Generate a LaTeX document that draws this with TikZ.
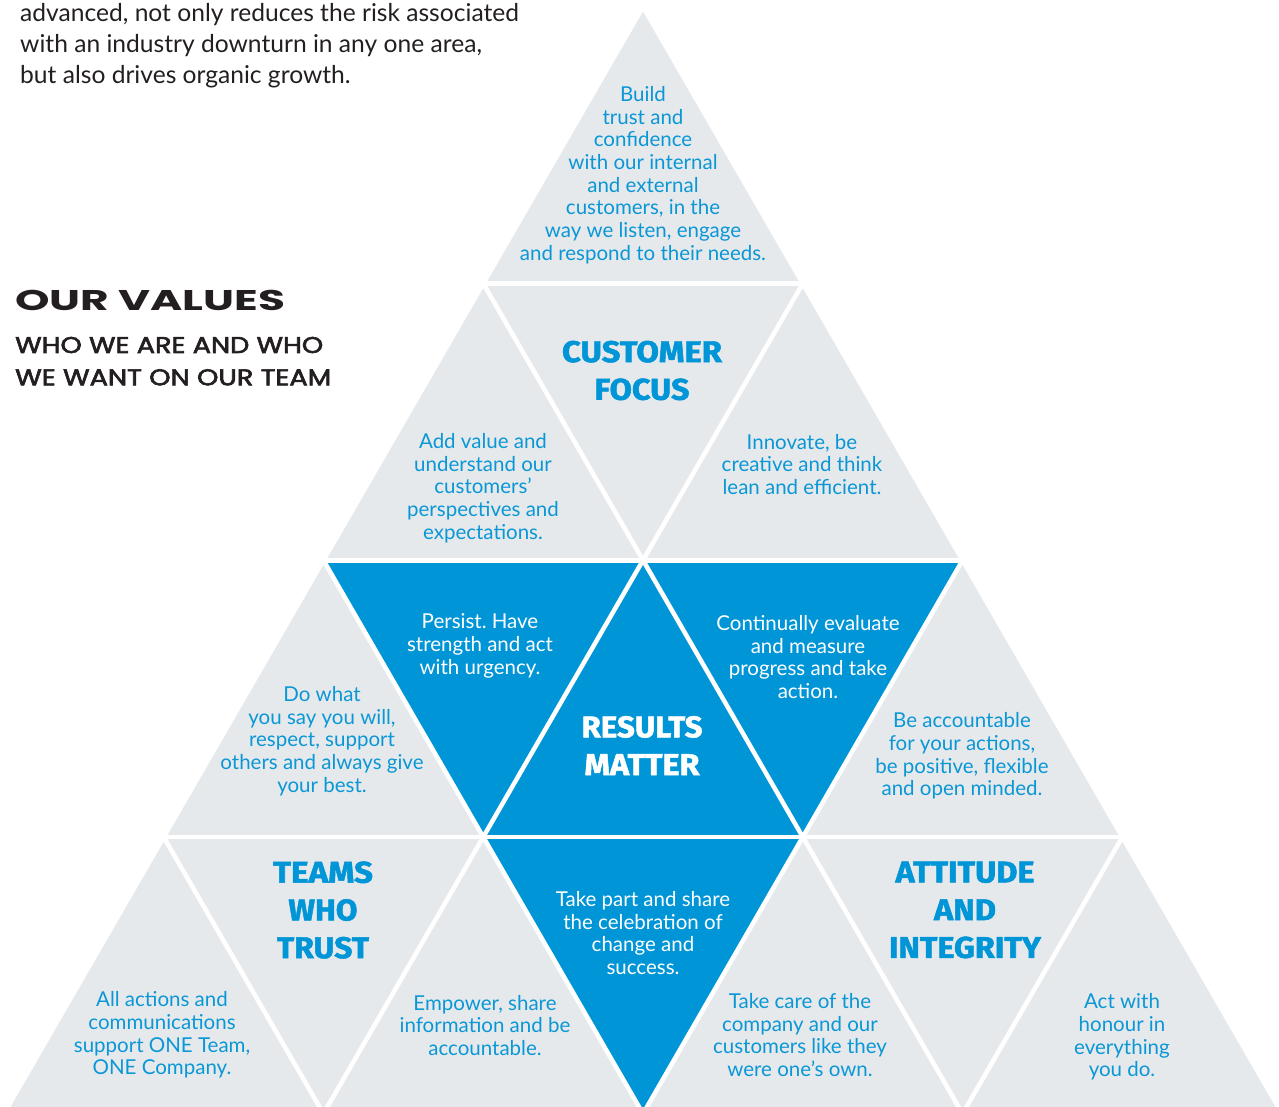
\documentclass[tikz,border=0pt]{standalone}
\usepackage{fontspec}
\usepackage{graphicx}
\setmainfont{Lato}
\newfontfamily\bodyf{Lato}
\newfontfamily\headf[FakeBold=1.6]{Fira Sans}
\newfontfamily\titlef{Poppins}
\newfontfamily\subf[FakeBold=2.6]{Poppins}
\definecolor{tri}{HTML}{E6E9EC}
\definecolor{vblue}{HTML}{0095D6}
\definecolor{tblue}{HTML}{0A97D6}
\definecolor{ink}{HTML}{231F20}
\newcommand{\hw}[2]{\resizebox{#1pt}{\height}{#2}}
\frenchspacing
\begin{document}
\begin{tikzpicture}[x=1pt,y=-1pt,
  body/.style={align=center, text=tblue, inner sep=0pt, yshift=-2pt, font=\bodyf\frenchspacing\fontsize{20.5}{22.7}\selectfont},
  bodyw/.style={body, text=white},
  head/.style={align=center, text=vblue, inner sep=0pt, font=\headf\bfseries\fontsize{30}{37.7}\selectfont},
  headw/.style={head, text=white},
  gap/.style={draw=white, line width=4.5pt, line join=miter}
]
\useasboundingbox (0,0) rectangle (1279,1106);
\clip (0,0) rectangle (1279,1106);
\foreach \j in {0,...,4}{\foreach \i in {0,...,\j}{\coordinate (p\i\j) at ({643+(\i-\j/2)*319.56},{6.75+\j*276.75});}}
% triangles
\fill[tri] (p00) -- (p04) -- (p44) -- cycle;
\fill[vblue] (p02) -- (p22) -- (p23) -- (p24) -- (p13) -- cycle;
\foreach \j in {1,2,3} {\draw[gap] (p0\j) -- (p\j\j);}
\foreach \i in {1,2,3} {\draw[gap] (p\i\i) -- (p\i4);}
\foreach \k in {1,2,3} {\pgfmathtruncatemacro\e{4-\k}\draw[gap] (p0\k) -- (p\e4);}
\draw[gap] (p00) -- (p04) -- (p44) -- cycle;
% left texts
\node[anchor=north west, inner sep=0pt, align=left, text=ink, font=\bodyf\fontsize{24.6}{31}\selectfont] (intro) at (20,3) {advanced, not only reduces the risk associated\\with an industry downturn in any one area,\\but also drives organic growth.};
\node[anchor=north west, inner sep=0pt, text=ink, font=\titlef\bfseries\fontsize{28.5}{30}\selectfont] (title) at (15,290) {\hw{270}{OUR VALUES}};
\node[anchor=north west, inner sep=0pt, text=ink, font=\subf\fontsize{22.8}{24}\selectfont] (sub1) at (15,336.7) {\hw{308}{WHO WE ARE AND WHO}};
\node[anchor=north west, inner sep=0pt, text=ink, font=\subf\fontsize{22.8}{24}\selectfont] (sub2) at (15,369) {\hw{316}{WE WANT ON OUR TEAM}};
% triangle labels
\node[body] (t1) at (643,173) {Build\\trust and\\confidence\\with our internal\\and external\\customers, in the\\way we listen, engage\\and respond to their needs.};
\node[body] (t2) at (483,486) {Add value and\\understand our\\customers’\\perspectives and\\expectations.};
\node[head] (h1) at (642,370.5) {\hw{160}{CUSTOMER}\\\hw{95}{FOCUS}};
\node[body] (t3) at (802,462.5) {Innovate, be\\creative and think\\lean and efficient.};
\node[body] (t4) at (322,739) {Do what\\you say you will,\\respect, support\\others and always give\\your best.};
\node[bodyw] (t5) at (480,644) {Persist. Have\\strength and act\\with urgency.};
\node[headw] (h2) at (642,745.5) {\hw{121}{RESULTS}\\\hw{115}{MATTER}};
\node[bodyw] (t6) at (808,655) {Continually evaluate\\and measure\\progress and take\\action.};
\node[body] (t7) at (962,754) {Be accountable\\for your actions,\\be positive, flexible\\and open minded.};
\node[body] (t8) at (162,1033) {All actions and\\communications\\support ONE Team,\\ONE Company.};
\node[head] (h3) at (323,910) {\hw{100}{TEAMS}\\\hw{69}{WHO}\\\hw{92}{TRUST}};
\node[body] (t9) at (485,1023.5) {Empower, share\\information and be\\accountable.};
\node[bodyw] (t10) at (643,931) {Take part and share\\the celebration of\\change and\\success.};
\node[body] (t11) at (800,1033) {Take care of the\\company and our\\customers like they\\were one’s own.};
\node[head] (h4) at (965,910) {\hw{139}{ATTITUDE}\\\hw{62}{AND}\\\hw{152}{INTEGRITY}};
\node[body] (t12) at (1122,1035) {Act with\\honour in\\everything\\you do.};
\end{tikzpicture}
\end{document}
